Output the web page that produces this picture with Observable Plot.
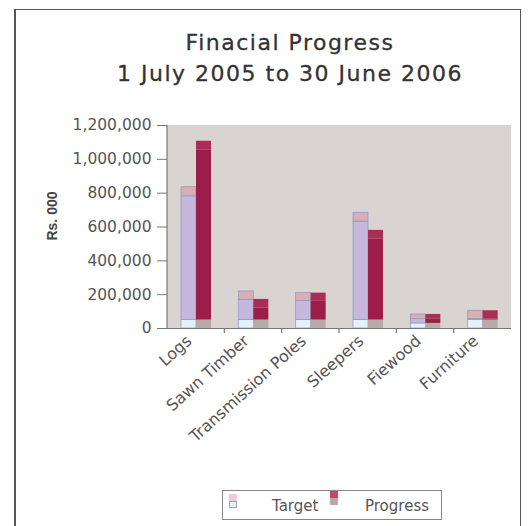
<!DOCTYPE html>
<html>
<head>
<meta charset="utf-8">
<script src="https://cdn.jsdelivr.net/npm/d3@7"></script>
<script src="https://cdn.jsdelivr.net/npm/@observablehq/plot@0.6"></script>
<style>
  html, body { margin: 0; padding: 0; background: #ffffff; }
  #wrap { position: relative; width: 528px; height: 526px; overflow: hidden; background: #fff; }
  #border { position: absolute; left: 14px; top: 9px; width: 504px; height: 540px; border: 1.5px solid #555; border-left-width: 2px; }
  #title { position: absolute; left: 0; top: 27px; width: 580px; text-align: center; font-family: "DejaVu Sans", sans-serif; font-size: 22px; letter-spacing: 1.5px; line-height: 31px; color: #333; -webkit-text-stroke: 0.3px #333; }
  #ylabel { position: absolute; left: 52px; top: 216px; transform: translate(-50%, -50%) rotate(-90deg); font-family: "Liberation Sans", Arial, sans-serif; font-weight: bold; font-size: 14px; color: #444; white-space: nowrap; }
  #chart { position: absolute; left: 0; top: 0; }
  #legend { position: absolute; left: 222px; top: 490px; width: 220px; height: 30px; border: 1px solid #888; box-sizing: border-box; font-family: "DejaVu Sans", sans-serif; font-size: 15px; color: #555; }
  .sw { position: absolute; width: 8px; }
  .lab { position: absolute; top: 6px; white-space: nowrap; }
</style>
</head>
<body>
<div id="wrap">
  <div id="border"></div>
  <div id="title">Finacial Progress<br>1 July 2005 to 30 June 2006</div>
  <div id="chart"></div>
  <div id="ylabel">Rs. 000</div>
  <div id="legend"></div>
</div>
<script>
// ---- data (Rs. 000) ----
const categories = ["Logs", "Sawn Timber", "Transmission Poles", "Sleepers", "Fiewood", "Furniture"];
const series = ["Target", "Progress"];
const parts = ["base", "body", "cap"];
const targetBase   = [50000, 50000, 50000, 50000, 30000, 50000];
const targetBody   = [731000, 118000, 112000, 582000, 25000, 5000];
const targetCap    = [54000, 51000, 47000, 51000, 28000, 50000];
const progressBase = [50000, 50000, 50000, 50000, 30000, 50000];
const progressBody = [1006000, 71000, 114000, 479000, 25000, 5000];
const progressCap  = [51000, 51000, 45000, 51000, 28000, 50000];
const yTicks = [0, 200000, 400000, 600000, 800000, 1000000, 1200000];

// ---- build table ----
const valuesBySeries = {
  Target: [targetBase, targetBody, targetCap],
  Progress: [progressBase, progressBody, progressCap]
};
const rows = [];
categories.forEach((c, i) => {
  series.forEach(s => {
    parts.forEach((p, k) => {
      rows.push({category: c, series: s, part: p, key: s + " " + p, value: valuesBySeries[s][k][i]});
    });
  });
});
const colorDomain = ["Target base", "Target body", "Target cap", "Progress base", "Progress body", "Progress cap"];
const colorRange  = ["#e3f1fa", "#c6b7dc", "#d8aeb6", "#b8aaa7", "#9c1d4a", "#aa2d57"];

const chart = Plot.plot({
  width: 528,
  height: 470,
  marginTop: 125,
  marginBottom: 142,
  marginLeft: 167,
  marginRight: 17,
  style: {fontFamily: "DejaVu Sans, sans-serif", fontSize: "15px", color: "#555", background: "transparent"},
  fx: {domain: categories, padding: 0, round: false, label: null},
  x: {domain: series, paddingInner: 0, paddingOuter: 0.85, axis: null},
  y: {domain: [0, 1200000], label: null},
  color: {domain: colorDomain, range: colorRange},
  marks: [
    Plot.barY(rows.filter(d => d.series === "Target"), {fx: "category", x: "series", y: "value", fill: "key", stroke: "#9096b8", strokeWidth: 0.7}),
    Plot.barY(rows.filter(d => d.series === "Progress"), {fx: "category", x: "series", y: "value", fill: "key"}),
    Plot.ruleY([0], {stroke: "#777", strokeWidth: 1.2}),
    Plot.axisY(yTicks, {tickSize: 10, tickPadding: 6, tickFormat: d3.format(","), fontSize: 15.5, stroke: "#777", fill: "#555", label: null}),
    Plot.axisFx({anchor: "bottom", tickSize: 0, tickRotate: -42, tickPadding: 8, dx: -7, dy: 2, fontSize: 16, fill: "#555", label: null})
  ]
});
document.getElementById("chart").appendChild(chart);

// plot background, axis line and category boundary ticks derived from Plot's scales
const fx = chart.scale("fx");
const ys = chart.scale("y");
const svg = d3.select(chart);
const x0 = fx.range[0], x1 = fx.range[1];
const y0 = ys.apply(0), yTop = ys.apply(1200000);
svg.insert("rect", ":first-child")
  .attr("x", x0).attr("y", yTop).attr("width", x1 - x0).attr("height", y0 - yTop)
  .attr("fill", "#d9d4d1");
svg.append("line").attr("x1", x0).attr("x2", x0).attr("y1", yTop).attr("y2", y0)
  .attr("stroke", "#777").attr("stroke-width", 1.2);
categories.slice(1).forEach(c => {
  const xb = fx.apply(c);
  svg.append("line").attr("x1", xb).attr("x2", xb).attr("y1", y0).attr("y2", y0 + 5)
    .attr("stroke", "#777").attr("stroke-width", 1.2);
});

// legend
const legend = document.getElementById("legend");
const legendPos = {Target: {sw: 6, lab: 49, top: 3}, Progress: {sw: 107, lab: 142, top: 0}};
series.forEach(s => {
  const pos = legendPos[s];
  const baseC = colorRange[colorDomain.indexOf(s + " base")];
  const top = document.createElement("div");
  top.className = "sw";
  top.style.cssText = `left:${pos.sw}px;top:${pos.top}px;height:7px;background:${s === "Target" ? "#f2c9d6" : "#d0406e"};`;
  const bot = document.createElement("div");
  bot.className = "sw";
  bot.style.cssText = `left:${pos.sw}px;top:${pos.top + 7}px;height:7px;background:${s === "Target" ? "#dff4f4" : baseC};${s === "Target" ? "border:1px solid #9aa;box-sizing:border-box;" : ""}`;
  const lab = document.createElement("div");
  lab.className = "lab";
  lab.style.left = pos.lab + "px";
  lab.textContent = s;
  legend.appendChild(top); legend.appendChild(bot); legend.appendChild(lab);
});
</script>
</body>
</html>
